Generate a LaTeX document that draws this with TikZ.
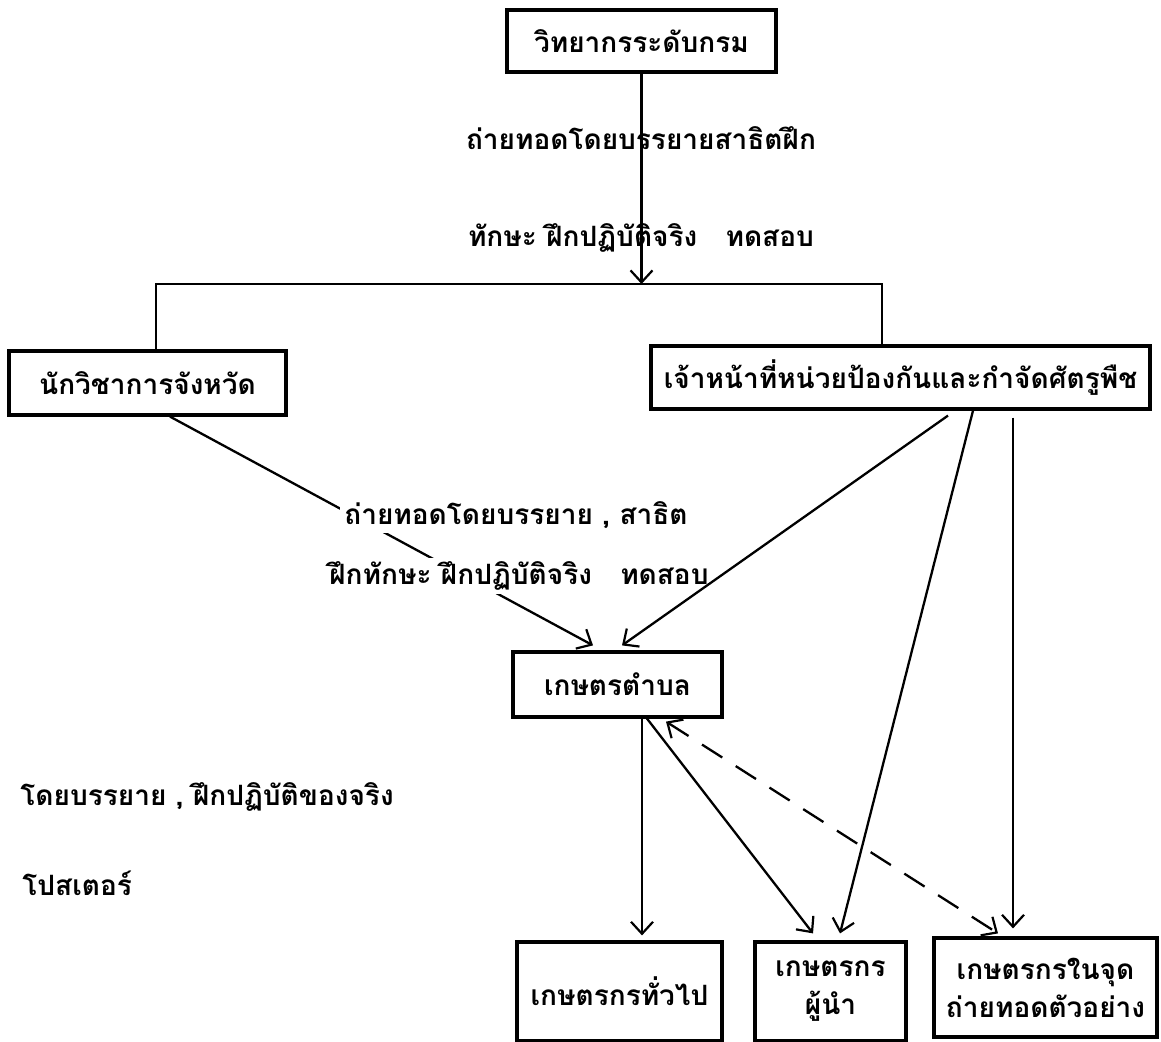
\documentclass[tikz,border=0pt]{standalone}
\usepackage{fontspec}
\newfontfamily\thai[Script=Thai]{Loma}
\usetikzlibrary{arrows.meta,calc}
\begin{document}
\begin{tikzpicture}[x=0.5pt,y=-0.5pt,
  every node/.style={font=\thai\bfseries\fontsize{14}{19}\selectfont},
  box/.style={draw,line width=1.6pt,inner sep=0pt,align=center},
  lab/.style={inner sep=1pt},
  wlab/.style={fill=white,inner sep=2pt},
  conn/.style={line width=1.15pt},
  arr/.style={conn,-{Straight Barb[length=6pt,width=11pt,line width=1.1pt]}},
  darr/.style={conn,dash pattern=on 12pt off 8pt,{Straight Barb[length=6pt,width=11pt,line width=1.1pt]}-{Straight Barb[length=6pt,width=11pt,line width=1.1pt]}}
]
\useasboundingbox (0,0) rectangle (1161,1042);
% boxes
\node[box,minimum width=134.5pt,minimum height=31pt] (T) at (641.5,41) {วิทยากรระดับกรม};
\node[box,minimum width=138.5pt,minimum height=32pt] (L) at (147.5,383) {นักวิชาการจังหวัด};
\node[box,minimum width=249.5pt,minimum height=31.5pt] (R) at (900.5,377.5) {เจ้าหน้าที่หน่วยป้องกันและกำจัดศัตรูพืช};
\node[box,minimum width=104.5pt,minimum height=32.5pt] (K) at (617.5,684.5) {เกษตรตำบล};
\node[box,minimum width=102.5pt,minimum height=49.5pt] (B1) at (619.5,991.5) {เกษตรกรทั่วไป};
\node[box,minimum width=75.5pt,minimum height=49.5pt] (B2) at (830.5,991.5) {เกษตรกร\\ผู้นำ};
\node[box,minimum width=111.5pt,minimum height=49.5pt] (B3) at (1045.5,987.5) {เกษตรกรในจุด\\ถ่ายทอดตัวอย่าง};
% top connector
\coordinate (hl) at (156,284);
\coordinate (hr) at (882,284);
\draw[arr] (T.south) -- (T.south |- hl);
\draw[conn] (hl |- L.north) -- (hl) -- (hr) -- (hr |- R.north);
\node[lab] (t1) at (641,138) {ถ่ายทอดโดยบรรยายสาธิตฝึก};
\node[lab] (t2) at (641,238) {ทักษะ ฝึกปฏิบัติจริง \ \ ทดสอบ};
% L to K with labels
\draw[arr] ($(L.south)+(22.5,0)$) -- ($(K.north)+(-24.5,-5)$);
\node[wlab] (t3) at (516,515) {ถ่ายทอดโดยบรรยาย , สาธิต};
\node[wlab] (t4) at (519,576) {ฝึกทักษะ ฝึกปฏิบัติจริง \ \ ทดสอบ};
% R to K, B2, B3
\draw[arr] ($(R.south)+(47.5,5)$) -- ($(K.north)+(4.5,-5)$);
\draw[arr] ($(R.south)+(72.5,0)$) -- ($(B2.north)+(9.5,-7)$);
\draw[arr] ($(R.south)+(112.5,7)$) -- ($(B3.north)+(-32.5,-8)$);
% K to bottom
\draw[arr] ($(K.south)+(24.5,0)$) -- ($(B1.north)+(22.5,-5)$);
\draw[arr] ($(K.south)+(29.5,0)$) -- ($(B2.north)+(-17.5,-7)$);
\draw[darr] ($(K.south)+(48.5,3)$) -- ($(B3.north)+(-47.5,-3)$);
% left labels
\node[lab,anchor=west] (t5) at (18,797) {โดยบรรยาย , ฝึกปฏิบัติของจริง};
\node[lab,anchor=west] (t6) at (20,883) {โปสเตอร์};
\end{tikzpicture}
\end{document}
